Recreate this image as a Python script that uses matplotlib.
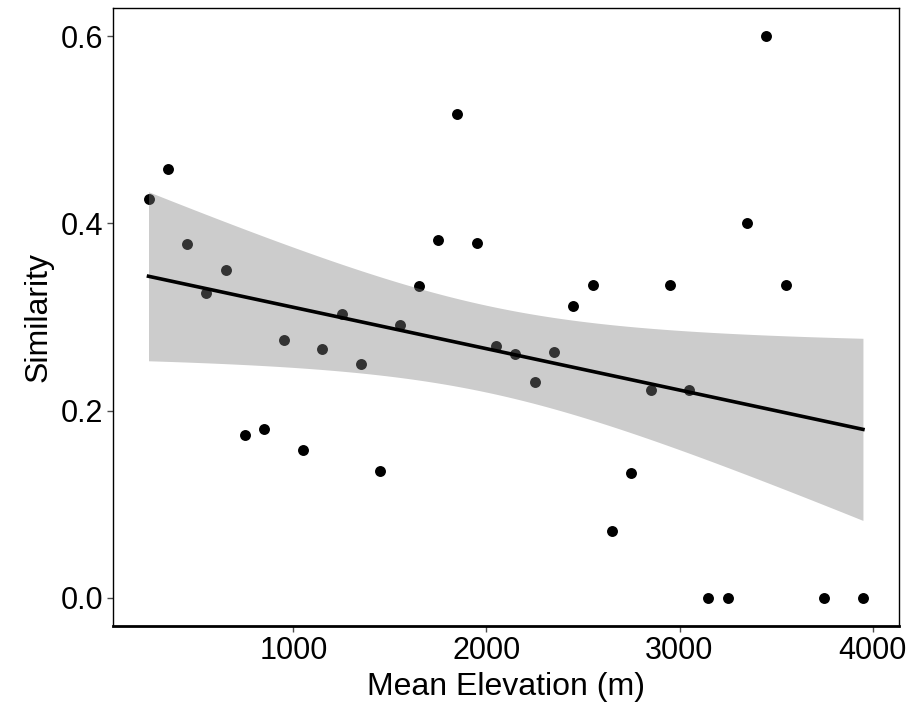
import numpy as np
from matplotlib import pyplot as plt
from matplotlib import font_manager

elevation = [250, 350, 450, 550, 650, 750, 850, 950, 1050, 1150, 1250, 1350,
             1450, 1550, 1650, 1750, 1850, 1950, 2050, 2150, 2250, 2350, 2450,
             2550, 2650, 2750, 2850, 2950, 3050, 3150, 3250, 3350, 3450, 3550,
             3750, 3950]
similarity = [0.426, 0.458, 0.378, 0.325, 0.350, 0.174, 0.180, 0.275, 0.158,
              0.266, 0.303, 0.250, 0.135, 0.291, 0.333, 0.382, 0.517, 0.379,
              0.269, 0.260, 0.230, 0.263, 0.312, 0.334, 0.071, 0.133, 0.222,
              0.334, 0.222, 0.0, 0.0, 0.400, 0.600, 0.334, 0.0, 0.0]
x_ticks = [1000, 2000, 3000, 4000]
y_ticks = [0.0, 0.2, 0.4, 0.6]

names = {f.name for f in font_manager.fontManager.ttflist}
font = 'Liberation Sans Narrow' if 'Liberation Sans Narrow' in names else 'Liberation Sans'
plt.rcParams['font.family'] = [font, 'DejaVu Sans']

x = np.array(elevation, dtype=float)
y = np.array(similarity)

# linear fit with 95% confidence band, like geom_smooth(method = "lm")
n = len(x)
slope, intercept = np.polyfit(x, y, 1)
resid = y - (intercept + slope * x)
s = np.sqrt(np.sum(resid ** 2) / (n - 2))
xg = np.linspace(x.min(), x.max(), 200)
yg = intercept + slope * xg
se = s * np.sqrt(1 / n + (xg - x.mean()) ** 2 / np.sum((x - x.mean()) ** 2))
t = 2.032  # t(0.975, df=34)

fig = plt.figure(figsize=(9.17, 7.21), dpi=100)
ax = fig.add_axes([0.123, 0.132, 0.857, 0.857])

ax.scatter(x, y, s=62, color='black', zorder=2, linewidths=0)
ax.fill_between(xg, yg - t * se, yg + t * se, color='0.5', alpha=0.4,
                linewidth=0, zorder=3)
ax.plot(xg, yg, color='black', linewidth=2.6, zorder=4)

rx = x.max() - x.min()
ax.set_xlim(x.min() - 0.05 * rx, x.max() + 0.05 * rx)
ax.set_ylim(-0.03, 0.63)
ax.set_xticks(x_ticks)
ax.set_yticks(y_ticks)
ax.set_yticklabels(['%.1f' % v for v in y_ticks])
ax.tick_params(labelsize=22, length=4, width=1, color='0.3', pad=3)

for side in ['top', 'right', 'left']:
    ax.spines[side].set_linewidth(1)
ax.spines['bottom'].set_linewidth(2)

ax.set_xlabel('Mean Elevation (m)', fontsize=23, labelpad=5)
ax.set_ylabel('Similarity', fontsize=23, labelpad=5)

fig.savefig('out.png', dpi=100)
